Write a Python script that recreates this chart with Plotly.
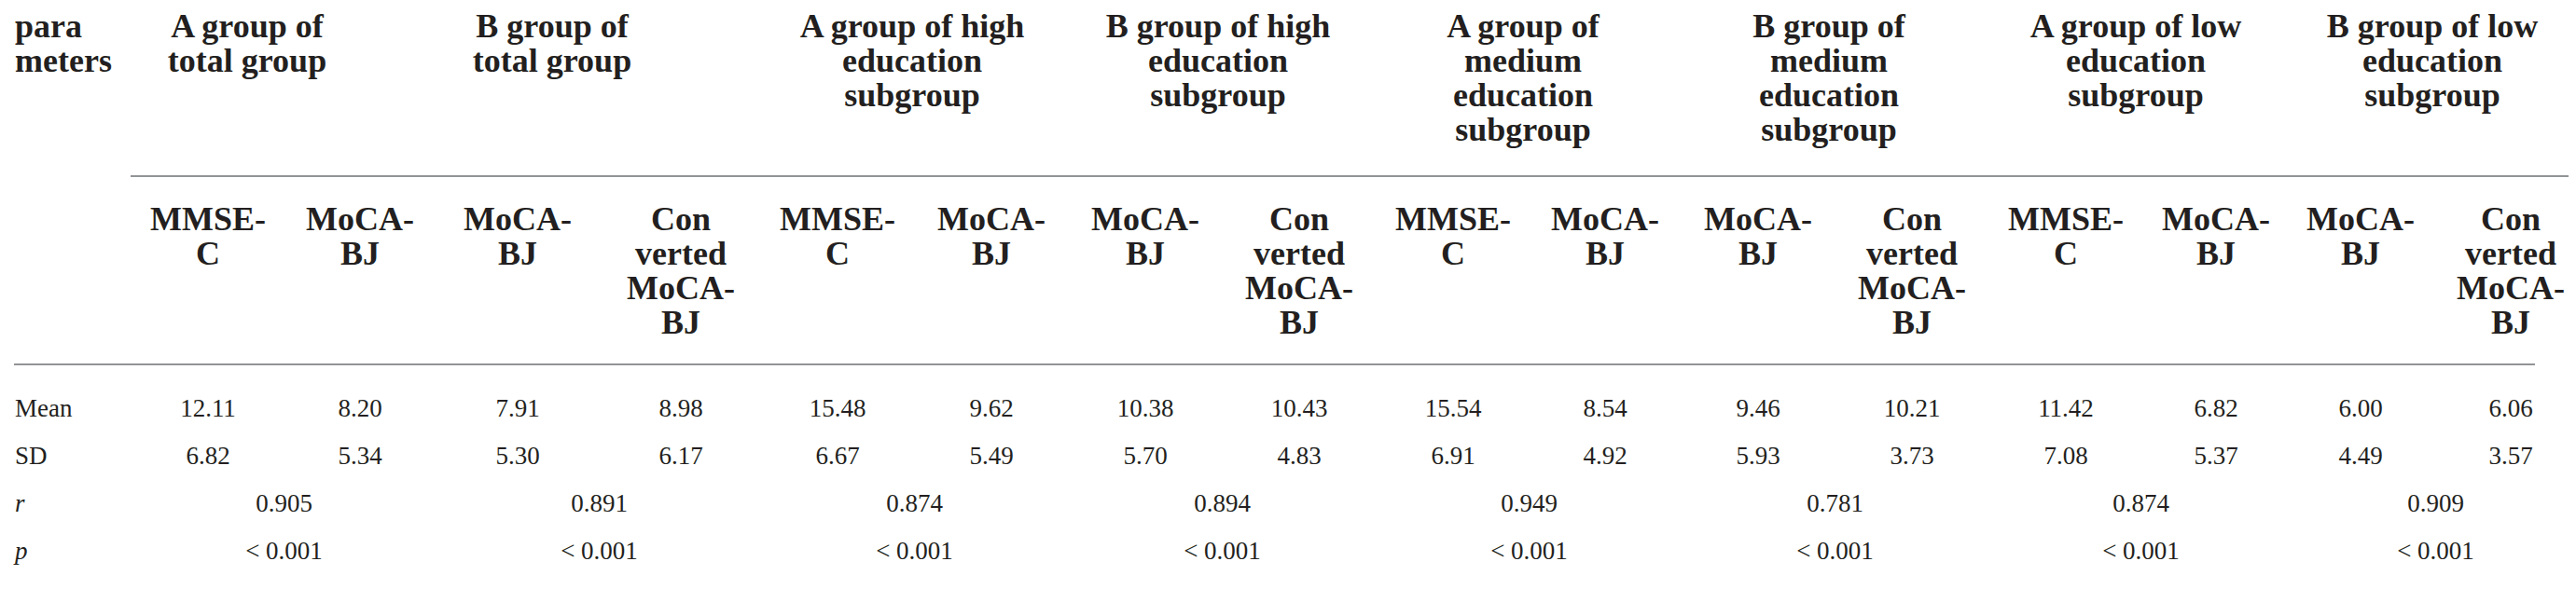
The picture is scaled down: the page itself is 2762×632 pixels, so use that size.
import plotly.graph_objects as go

# ---- data (as printed in the table) ----
param_header = ["para", "meters"]
group_headers = [
    ["A group of", "total group"],
    ["B group of", "total group"],
    ["A group of high", "education", "subgroup"],
    ["B group of high", "education", "subgroup"],
    ["A group of", "medium", "education", "subgroup"],
    ["B group of", "medium", "education", "subgroup"],
    ["A group of low", "education", "subgroup"],
    ["B group of low", "education", "subgroup"],
]
scale_headers = [
    ["MMSE-", "C"], ["MoCA-", "BJ"], ["MoCA-", "BJ"], ["Con", "verted", "MoCA-", "BJ"],
    ["MMSE-", "C"], ["MoCA-", "BJ"], ["MoCA-", "BJ"], ["Con", "verted", "MoCA-", "BJ"],
    ["MMSE-", "C"], ["MoCA-", "BJ"], ["MoCA-", "BJ"], ["Con", "verted", "MoCA-", "BJ"],
    ["MMSE-", "C"], ["MoCA-", "BJ"], ["MoCA-", "BJ"], ["Con", "verted", "MoCA-", "BJ"],
]
row_labels = ["Mean", "SD", "r", "p"]
mean_values = ["12.11", "8.20", "7.91", "8.98", "15.48", "9.62", "10.38", "10.43",
               "15.54", "8.54", "9.46", "10.21", "11.42", "6.82", "6.00", "6.06"]
sd_values = ["6.82", "5.34", "5.30", "6.17", "6.67", "5.49", "5.70", "4.83",
             "6.91", "4.92", "5.93", "3.73", "7.08", "5.37", "4.49", "3.57"]
r_values = ["0.905", "0.891", "0.874", "0.894", "0.949", "0.781", "0.874", "0.909"]
p_values = ["< 0.001", "< 0.001", "< 0.001", "< 0.001",
            "< 0.001", "< 0.001", "< 0.001", "< 0.001"]

# ---- layout (pixel grid of the page) ----
W, H = 2762, 632
col_x = [215, 378, 547, 722, 890, 1055, 1220, 1385,
         1550, 1713, 1877, 2042, 2207, 2368, 2523, 2684]
group_x = [257, 584, 970, 1298, 1625, 1953, 2282, 2600]
pair_x = [(col_x[2 * i] + col_x[2 * i + 1]) / 2 for i in range(8)]
label_x = 8

HEAD_FS = 36
DATA_FS = 27
head_base = [32, 69, 106, 143]       # baselines of header lines
sub_base = [239, 276, 313, 350]      # baselines of sub-header lines
row_base = [439, 490, 541, 592]      # baselines of data rows

TXT = "#231f20"
RULE = "#929497"
SERIF = "Liberation Serif"


def mid_y(base, fs):
    # plotly puts the baseline 0.25 em below a 'middle' text point
    return base - 0.25 * fs


fig = go.Figure()


def add_text(xs, ys, texts, fs, bold=False, italic=False, pos="middle center"):
    fig.add_trace(go.Scatter(
        x=xs, y=ys, text=texts, mode="text", textposition=pos,
        textfont=dict(family=SERIF, size=fs, color=TXT,
                      weight="bold" if bold else "normal",
                      style="italic" if italic else "normal"),
        hoverinfo="skip", showlegend=False,
    ))


# header: parameter column
add_text([label_x] * 2, [mid_y(b, HEAD_FS) for b in head_base[:2]],
         param_header, HEAD_FS, bold=True, pos="middle right")

# group headers
gx, gy, gt = [], [], []
for x, lines in zip(group_x, group_headers):
    for i, line in enumerate(lines):
        gx.append(x)
        gy.append(mid_y(head_base[i], HEAD_FS))
        gt.append(line)
add_text(gx, gy, gt, HEAD_FS, bold=True)

# scale sub-headers
sx, sy, st = [], [], []
for x, lines in zip(col_x, scale_headers):
    for i, line in enumerate(lines):
        sx.append(x)
        sy.append(mid_y(sub_base[i], HEAD_FS))
        st.append(line)
add_text(sx, sy, st, HEAD_FS, bold=True)

# row labels
add_text([label_x] * 2, [mid_y(b, DATA_FS) for b in row_base[:2]],
         row_labels[:2], DATA_FS, pos="middle right")
add_text([label_x] * 2, [mid_y(b, DATA_FS) for b in row_base[2:]],
         row_labels[2:], DATA_FS, italic=True, pos="middle right")

# values
add_text(col_x, [mid_y(row_base[0], DATA_FS)] * len(col_x), mean_values, DATA_FS)
add_text(col_x, [mid_y(row_base[1], DATA_FS)] * len(col_x), sd_values, DATA_FS)
add_text(pair_x, [mid_y(row_base[2], DATA_FS)] * len(pair_x), r_values, DATA_FS)
add_text(pair_x, [mid_y(row_base[3], DATA_FS)] * len(pair_x), p_values, DATA_FS)

# horizontal rules
rules = [(132, 2757, 181), (7, 2710, 383), (7, 2710, 625)]
for x0, x1, y in rules:
    fig.add_shape(type="line", x0=x0, x1=x1, y0=y, y1=y,
                  xref="x", yref="y", line=dict(color=RULE, width=2))

fig.update_layout(
    width=W, height=H,
    margin=dict(l=0, r=0, t=0, b=0),
    paper_bgcolor="white", plot_bgcolor="white",
    xaxis=dict(range=[0, W], visible=False, fixedrange=True),
    yaxis=dict(range=[H, 0], visible=False, fixedrange=True),
)

fig.write_html("out.html")
